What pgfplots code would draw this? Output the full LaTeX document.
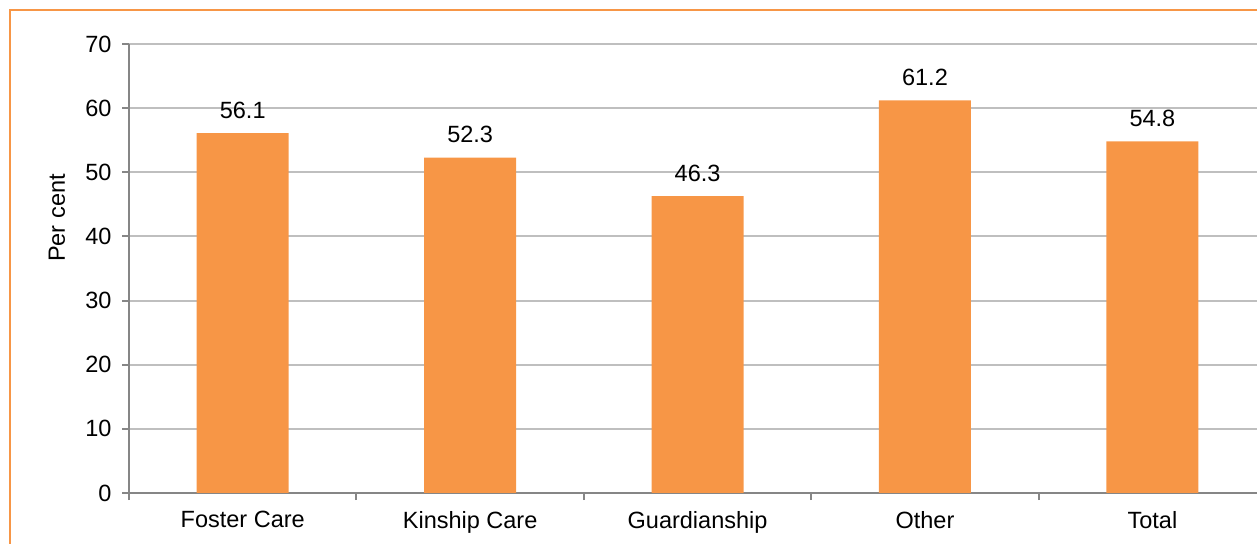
\documentclass[border=0pt]{standalone}
\usepackage{pgfplots}
\pgfplotsset{compat=1.18}
\usepackage{fontspec}
\setmainfont{Liberation Sans}
\definecolor{barorange}{RGB}{247,150,70}
\definecolor{gridgray}{RGB}{191,191,191}
\definecolor{axisgray}{RGB}{134,134,134}
\begin{document}
\begin{tikzpicture}
\path[use as bounding box] (0,0) rectangle (1257bp,544bp);
\begin{axis}[
  at={(129bp,51bp)}, anchor=south west,
  scale only axis, width=1128bp, height=449bp,
  xmin=-0.5, xmax=4.46, ymin=0, ymax=70,
  axis lines*=left,
  axis line style={draw=axisgray, line width=2bp},
  ytick={0,10,...,70},
  ymajorgrids, grid style={draw=gridgray, line width=2bp},
  xtick={-0.5,0.5,1.5,2.5,3.5}, xticklabels={},
  extra x ticks={0,1,2,3,4},
  extra x tick labels={Foster Care,Kinship Care,Guardianship,Other,Total},
  extra x tick style={major tick length=0pt, xticklabel style={yshift=-15bp}},
  tick align=outside, major tick length=7bp,
  tick style={draw=axisgray, line width=2bp},
  ticklabel style={font=\fontsize{23.5bp}{28bp}\selectfont},
  yticklabel style={xshift=-7bp},
  /pgf/number format/assume math mode=true,
  ybar, bar width=92bp,
  nodes near coords,
  every node near coord/.append style={font=\fontsize{23.5bp}{28bp}\selectfont, text=black, yshift=11bp, /pgf/number format/fixed, /pgf/number format/precision=1, /pgf/number format/assume math mode=true},
]
\addplot[fill=barorange, draw=none] coordinates {(0,56.1) (1,52.3) (2,46.3) (3,61.2) (4,54.8)};
\end{axis}
\draw[barorange, line width=2bp] (9.5bp,-10bp) rectangle (1270bp,533.5bp);
\node[rotate=90, font=\fontsize{23.5bp}{28bp}\selectfont] at (57bp,326bp) {Per cent};
\end{tikzpicture}
\end{document}
